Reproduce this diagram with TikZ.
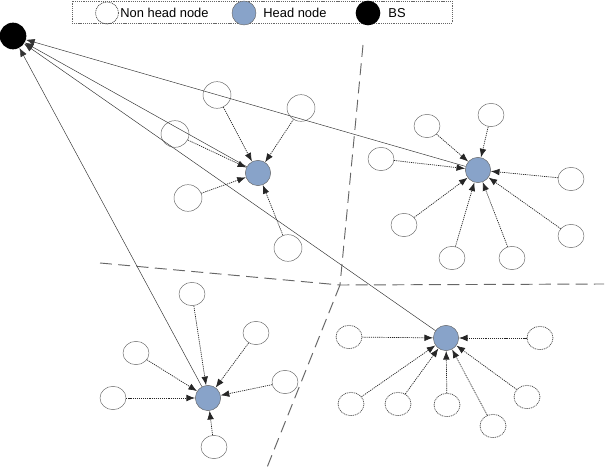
\documentclass[tikz,border=0pt]{standalone}
\usepackage{fontspec}
\setmainfont{Liberation Sans}
\usetikzlibrary{shapes.geometric,arrows.meta}
\definecolor{headblue}{RGB}{136,163,201}

\begin{document}
\begin{tikzpicture}[x=0.3mm, y=-0.3mm, every node/.style={font=\fontsize{11}{13}\selectfont},
	nh/.style={draw=black!60, ellipse, minimum width=7.8mm, minimum height=7mm, inner sep=0pt},
	nhd/.style={nh, draw=black!70, line width=0.6pt, dash pattern=on 0.9pt off 0.7pt},
	hd/.style={draw=black!60, circle, fill=headblue, minimum size=7.6mm, inner sep=0pt},
	bsn/.style={circle, fill=black, minimum size=8mm, inner sep=0pt},
	link/.style={-{Latex[length=2.6mm,width=2mm]}, line width=0.6pt, dash pattern=on 1pt off 0.8pt, black!85},
	up/.style={-{Latex[length=2.6mm,width=2mm]}, black!80},
	zone/.style={dashed, dash pattern=on 3.6mm off 1.9mm, black!60, thick}]
	\useasboundingbox (0,0) rectangle (607,472);
	% legend
	\node[draw=black!60, line width=0.6pt, dash pattern=on 0.9pt off 0.7pt, minimum width=114mm, minimum height=6.6mm, inner sep=0pt] (legend) at (262,12) {};
	\node[nhd, minimum width=6.9mm, minimum height=6.6mm] (lnh) at (107,13) {};
	\node[anchor=west, inner sep=1pt] (lnht) at (119,13) {Non head node};
	\node[hd, minimum size=7.2mm] (lhd) at (244,13) {};
	\node[anchor=west, inner sep=1pt] (lhdt) at (262,13) {Head node};
	\node[bsn, minimum size=7.4mm] (lbs) at (368,13) {};
	\node[anchor=west, inner sep=1pt] (lbst) at (387,13) {BS};
	% base station and heads
	\node[bsn] (bs) at (13,36) {};
	\node[hd] (h1) at (258,173) {};
	\node[hd] (h2) at (478,170) {};
	\node[hd] (h3) at (208,398) {};
	\node[hd] (h4) at (446,338) {};
	% zones
	\draw[zone] (363,45) -- (340,285);
	\draw[zone] (100,263) -- (340,285) -- (604,284);
	\draw[zone] (340,285) -- (266,470);
	% cluster 1
	\node[nh, minimum width=8.4mm, minimum height=8mm] (a1) at (217,95) {};
	\node[nh, minimum width=8.4mm, minimum height=8mm] (a2) at (301,108) {};
	\node[nh, minimum width=8.4mm, minimum height=8mm] (a3) at (175,134) {};
	\node[nh, minimum width=8.4mm, minimum height=8mm] (a4) at (188,198) {};
	\node[nh, minimum width=8.4mm, minimum height=8mm] (a5) at (288,248) {};
	% cluster 2
	\node[nh] (b1) at (427,126) {};
	\node[nh] (b2) at (491,115) {};
	\node[nh] (b3) at (381,159) {};
	\node[nh] (b4) at (571,179) {};
	\node[nh] (b5) at (404,225) {};
	\node[nh] (b6) at (571,236) {};
	\node[nh] (b7) at (452,258) {};
	\node[nh] (b8) at (512,258) {};
	% cluster 3
	\node[nh] (c1) at (192,294) {};
	\node[nh] (c2) at (256,333) {};
	\node[nh] (c3) at (136,353) {};
	\node[nh] (c4) at (285,382) {};
	\node[nh] (c5) at (113,398) {};
	\node[nh] (c6) at (214,447) {};
	% cluster 4
	\node[nhd] (d1) at (349,337) {};
	\node[nhd] (d2) at (540,338) {};
	\node[nhd] (d3) at (351,404) {};
	\node[nhd] (d4) at (398,404) {};
	\node[nhd] (d5) at (447,405) {};
	\node[nhd] (d6) at (493,426) {};
	\node[nhd] (d7) at (527,397) {};
	% heads to BS
	\draw[up] (h2) -- (bs);
	\draw[up] (h1) -- (bs);
	\draw[up] (h4) -- (bs);
	\draw[up] (h3) -- (bs);
	% members to heads
	\draw[link] (a1) -- (h1);
	\draw[link] (a2) -- (h1);
	\draw[link] (a3) -- (h1);
	\draw[link] (a4) -- (h1);
	\draw[link] (a5) -- (h1);
	\draw[link] (b1) -- (h2);
	\draw[link] (b2) -- (h2);
	\draw[link] (b3) -- (h2);
	\draw[link] (b4) -- (h2);
	\draw[link] (b5) -- (h2);
	\draw[link] (b6) -- (h2);
	\draw[link] (b7) -- (h2);
	\draw[link] (b8) -- (h2);
	\draw[link] (c1) -- (h3);
	\draw[link] (c2) -- (h3);
	\draw[link] (c3) -- (h3);
	\draw[link] (c4) -- (h3);
	\draw[link] (c5) -- (h3);
	\draw[link] (c6) -- (h3);
	\draw[link] (d1) -- (h4);
	\draw[link] (d2) -- (h4);
	\draw[link] (d3) -- (h4);
	\draw[link] (d4) -- (h4);
	\draw[link] (d5) -- (h4);
	\draw[link] (d6) -- (h4);
	\draw[link] (d7) -- (h4);
\end{tikzpicture}
\end{document}
